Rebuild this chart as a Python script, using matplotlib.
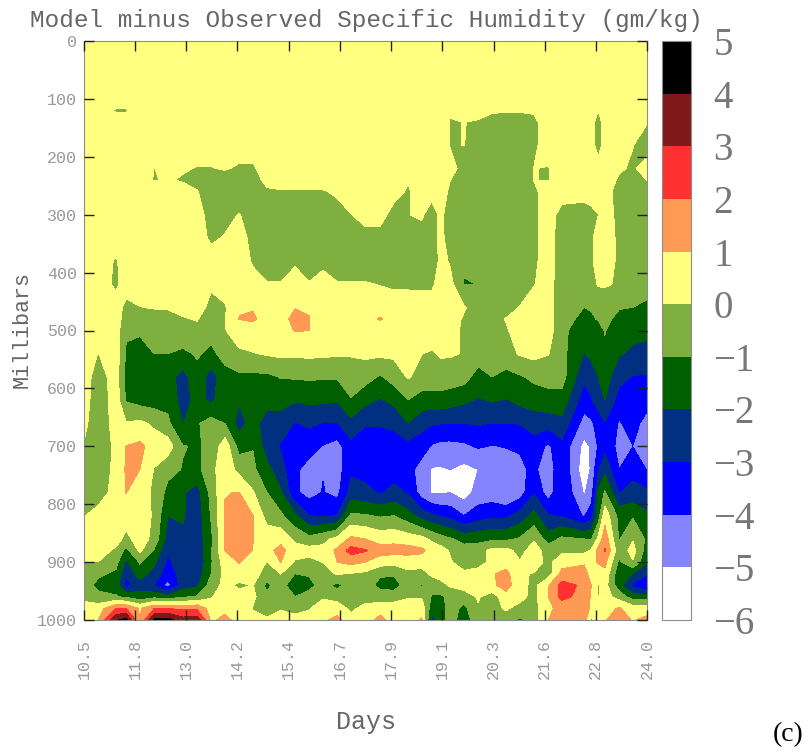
import numpy as np
import matplotlib
matplotlib.use('Agg')
import matplotlib.pyplot as plt
from matplotlib.colors import ListedColormap, BoundaryNorm

# time axis (days) of the model minus observed table, one entry per column
days = [10.50, 10.84, 11.27, 11.51, 11.84, 12.18, 12.51, 12.87, 13.21, 13.55,
        13.88, 14.22, 14.55, 14.89, 15.22, 15.56, 15.90, 16.23, 16.57, 16.90,
        17.24, 17.60, 17.93, 18.27, 18.60, 18.84, 19.06, 19.28, 19.61, 19.95,
        20.28, 20.62, 20.95, 21.29, 21.63, 21.96, 22.49, 22.66, 22.83, 22.99,
        23.33, 23.66, 24.00]
pressure = [0, 100, 120, 140, 180, 220, 240, 260, 300, 340, 380, 420, 460, 480, 500, 540,
            580, 620, 660, 700, 740, 780, 820, 860, 880, 900, 920, 940, 960, 980, 1000]

# specific humidity difference (gm/kg), one row per pressure level
humidity = [
  [.5]*43,
  [.5]*43,
  [.5,.5,-.1,-.1,.5,.5,.5,.5,.5,.5, .5,.5,.5,.5,.5,.5,.5,.5,.5,.5,
   .5,.5,.5,.5,.5,.5,.5,.1,.1,.2, .1,.1,.1,.1,.5,.5,.5,.5,.02,.5, .5,.5,.5],
  [.5,.5,.5,.5,.5,.5,.5,.5,.5,.5, .5,.5,.5,.5,.5,.5,.5,.5,.5,.5,
   .5,.5,.5,.5,.5,.5,.5,-.05,.01,-.05, -.3,-.5,-.5,-.2,.5,.5,.5,.5,-.5,.5, .5,.5,.03],
  [.5,.5,.5,.5,.5,.5,.5,.5,.5,.5, .5,.5,.5,.5,.5,.5,.5,.5,.5,.5,
   .5,.5,.5,.5,.5,.5,.5,-.05,.01,-.2, -.3,-.6,-.6,-.2,.5,.5,.5,.5,-.5,.5, .02,.02,-.3],
  [.5,.5,.5,.5,.5,-.02,.3,.1,-.05,-.05, .1,-.15,-.15,.5,.5,.5,.5,.5,.5,.5,
   .5,.5,.5,.5,.5,.5,.5,.4,-.4,-.6, -.6,-.6,-.5,.02,-.05,.5,.5,.5,.5,.5, .1,-.1,.3],
  [.5,.5,.5,.5,.5,-.05,.1,-.1,-.3,-.5, -.5,-.6,-.3,.2,.5,.5,.5,.5,.5,.5,
   .5,.5,.5,.05,.5,.5,.5,.02,-.5,-.7, -.7,-.7,-.6,.02,-.05,.5,.5,.5,.5,.4, -.1,-.4,.02],
  [.5,.5,.5,.5,.5,.5,.5,.4,.05,-.6, -.7,-.7,-.7,-.1,-.1,-.1,-.1,-.1,.2,.5,
   .5,.5,.3,-.1,.4,.3,.5,-.2,-.7,-.8, -.8,-.8,-.8,-.2,.5,.5,.5,.5,.5,.3, -.3,-.6,-.6],
  [.5,.5,.5,.5,.5,.5,.5,.5,.3,-.3, -.4,.05,-.5,-.8,-.8,-.8,-.8,-.8,-.5,-.02,
   .3,.3,-.3,-.02,.1,-.4,.2,-.5,-.8,-.8, -.8,-.8,-.8,-.2,.5,-.4,-.6,-.3,-.02,.5, -.3,-.7,-.7],
  [.5,.5,.5,.5,.5,.5,.5,.5,.5,-.2, .1,.4,-.3,-.8,-.8,-.8,-.8,-.8,-.8,-.8,
   -.3,-.3,-.6,-.6,-.3,-.5,.3,-.6,-.9,-.9, -.9,-.9,-.9,-.2,.5,-.6,-.8,-.2,.5,.5, -.2,-.8,-.8],
  [.5,.5,-.1,.5,.5,.5,.5,.5,.5,.5, .5,.5,-.1,-.8,-.8,-.1,-.8,-.2,-.8,-.8,
   -.8,-.8,-.8,-.8,-.8,-.7,.3,-.1,-.9,-.9, -.9,-.9,-.9,-.2,.5,-.6,-.8,-.2,.5,.5, -.2,-.8,-.8],
  [.5,.5,-.2,.5,.5,.5,.5,.5,.5,.1, .5,.5,.3,.1,.1,.3,.1,.3,.1,.1,
   .1,-.05,-.2,-.2,-.2,-.2,.5,.3,-1.04,-.99, -.8,-.8,-.8,-.05,.5,-.7,-.8,-.5,.1,.1, -.1,-.8,-.8],
  [.5,.5,.5,-.3,-.02,.05,.05,.2,.3,-.2, -.1,.95,.95,.6,.6,.95,.95,.6,.6,.6,
   .6,.7,.6,.6,.5,.5,.5,.4,.1,-.5, -.5,-.5,.05,.5,.5,-.7,-1.0,-.95,-.8,-.6, -.95,-1.0,-1.1],
  [.5,.5,.5,-.5,-.4,-.3,-.2,-.05,.05,-.4, -.05,1.02,1.1,.7,.6,1.3,1.02,.6,.6,.6,
   .8,1.05,.8,.6,.5,.5,.5,.4,-.1,-.6, -.3,.05,.5,.5,.5,-.7,-1.2,-1.1,-.95,-.8, -1.2,-1.4,-1.5],
  [.5,.5,.5,-.9,-.9,-.5,-.4,-.35,-.2,-.7, -.05,.6,.7,.6,.6,1.05,1.0,.6,.6,.6,
   .5,.6,.5,.5,.5,.5,.5,.4,-.2,-.7, -.7,-.1,.4,.6,.5,-.8,-1.5,-1.5,-1.3,-.95, -1.6,-1.7,-1.8],
  [.5,-.02,.5,-1.1,-1.3,-1.0,-1.0,-1.2,-.9,-1.2, -.7,-.2,-.05,.1,.2,.2,.2,.2,.1,.1,
   .2,.2,.2,.3,.02,-.1,.1,.1,-.05,-.5, -.6,-.4,.1,.3,.05,-.7,-2.05,-1.8,-1.4,-1.2, -1.9,-2.2,-2.3],
  [.5,-.5,.5,-1.4,-1.7,-1.9,-1.6,-2.4,-1.3,-2.5, -1.3,-1.2,-1.2,-1.2,-.95,-.9,-.85,-.9,-.9,-.6,
   -.6,-1.1,-.6,.1,-.4,-.4,-.4,-.5,-.6,-1.4, -1.0,-1.3,-1.1,-.8,-.7,-.6,-2.8,-2.6,-2.0,-1.5, -2.7,-3.05,-3.1],
  [.5,-.7,.5,-1.1,-1.4,-1.5,-1.3,-2.4,-1.7,-2.2, -1.4,-1.9,-1.5,-1.6,-1.6,-1.9,-1.8,-1.8,-1.9,-1.05,
   -1.7,-2.1,-1.7,-1.0,-1.4,-1.4,-1.4,-1.5,-1.8,-2.1, -1.9,-2.05,-1.7,-1.5,-1.3,-1.4,-3.5,-3.1,-2.5,-2.0, -3.4,-3.5,-3.6],
  [.3,-.8,.5,.05,.2,-.2,-.8,-2.05,-1.1,-.6, -1.05,-2.4,-1.6,-2.5,-2.5,-3.05,-2.8,-3.05,-3.05,-2.3,
   -2.95,-2.95,-2.85,-2.0,-2.7,-2.9,-2.95,-3.0,-3.0,-2.9, -3.0,-3.0,-2.95,-2.6,-2.6,-2.3,-4.4,-4.2,-3.6,-3.05, -4.1,-3.6,-4.4],
  [-.1,-.9,.3,1.02,1.2,.6,.5,-.95,-1.1,-.8, .6,-1.4,-1.05,-2.5,-3.1,-3.5,-3.7,-4.05,-4.4,-3.3,
   -3.3,-3.3,-3.3,-3.3,-3.5,-4.1,-4.3,-4.3,-4.2,-3.9, -4.05,-3.95,-3.9,-3.4,-4.2,-3.3,-5.3,-4.9,-3.9,-3.3, -4.3,-4.02,-4.6],
  [-.4,-.7,.3,1.1,1.0,-.05,-.7,-1.05,-1.3,-.3, .6,-.3,-.8,-1.7,-2.6,-3.85,-4.3,-4.05,-4.5,-3.2,
   -3.4,-3.5,-3.5,-3.6,-4.5,-5.1,-5.1,-5.0,-5.3,-5.0, -4.5,-4.6,-4.2,-3.8,-4.6,-3.2,-5.6,-4.9,-3.1,-2.3, -4.0,-3.3,-4.05],
  [-.7,-.5,.4,1.02,.5,-.2,-1.3,-1.9,-2.4,-.7, .98,1.02,.1,-1.0,-1.9,-3.8,-4.4,-3.95,-4.3,-2.6,
   -2.7,-3.1,-2.7,-3.1,-4.5,-5.1,-5.1,-5.0,-5.5,-4.6, -4.6,-5.05,-4.5,-3.1,-4.5,-3.1,-5.1,-4.6,-1.8,-.9, -3.05,-2.7,-2.8],
  [-.05,.4,.5,.5,.4,-.1,-2.0,-1.9,-2.6,-.9, 1.05,1.6,1.02,-.4,-.8,-1.8,-3.0,-3.1,-3.0,-.8,
   -.9,-1.1,-1.0,-1.6,-2.4,-2.8,-3.1,-3.3,-4.0,-3.5, -3.2,-3.2,-2.6,-1.7,-2.9,-3.1,-4.1,-3.4,-1.5,.6, -1.3,-1.1,-1.8],
  [.5,.5,.4,-.3,.5,-.3,-2.4,-2.2,-2.6,-1.2, 1.05,1.6,1.02,.6,.7,-.2,-.7,-.3,.3,1.2,
   1.0,.6,.7,.5,.3,-.2,-.6,-.9,-1.4,-1.3, -1.2,-1.2,-.9,-.1,-1.5,-.8,-1.0,-1.1,.2,1.6, -1.1,-.1,-1.2],
  [.5,.5,-.2,-1.3,.2,-1.1,-2.9,-2.2,-2.8,-1.1, 1.02,1.4,.98,.7,1.3,.4,.4,.3,1.2,2.4,
   2.1,1.4,1.4,1.4,1.2,.6,.4,-.1,-.5,-.5, .3,.3,-.3,.4,-.4,-.2,-.3,.1,1.3,2.1, -.7,.4,-1.5],
  [.02,-.02,-.7,-2.2,-.9,-1.8,-3.2,-2.4,-2.9,-1.1, .5,1.05,.6,-.05,1.02,-.1,-.3,.02,1.0,1.3,
   1.0,.5,.3,.4,.5,.5,.4,.1,-.5,-.5, .3,.5,.05,.5,-.3,.6,.9,.7,1.1,1.3, -1.2,-.1,-1.9],
  [-.3,-.8,-1.2,-2.9,-1.5,-2.4,-3.5,-2.6,-2.6,-1.0, .3,.6,.3,-.3,.02,-1.0,-.9,-.4,.1,-.05,
   -.2,-.9,-.9,-.2,-.4,.2,.4,.5,.2,.5, .9,1.3,.1,-.05,-.5,1.3,1.3,.7,.3,.7, -1.7,-2.0,-2.9],
  [-.5,-1.3,-1.5,-3.3,-2.5,-3.0,-4.4,-2.5,-2.2,-.5, .3,-.2,.05,-1.3,-.3,-2.2,-1.3,-.6,-1.3,-.5,
   -.7,-1.2,-1.4,-.6,-1.1,-.6,-.3,.1,.4,.5, .8,1.4,.4,-.3,.9,2.4,1.8,1.02,-.1,.4, -1.6,-3.2,-4.2],
  [-.2,-.7,-.9,-1.2,-1.6,-1.3,-1.6,-1.1,-.9,-.1, .6,.4,.2,-.7,-.1,-1.0,-.6,-.1,-.4,-.4,
   -.4,-.6,-.5,-.1,-.1,-1.1,-1.2,-.6,-.5,.1, -.5,.6,.3,-.3,1.0,2.3,1.6,.9,-.05,.4, -.4,-1.5,-1.5],
  [.3,.5,2.0,2.0,.9,1.9,2.0,1.8,1.8,.6, .7,.5,-.05,-.6,-.1,-.2,-.05,.4,.5,-.2,
   .3,.6,.6,.6,.6,-1.6,-1.6,-.5,-1.3,-.1, -.3,.1,-.3,-.4,.8,1.3,1.3,.9,.3,.6, 1.1,.5,.5],
  [.5,1.0,3.9,4.3,.9,4.2,4.4,3.4,3.6,.8, 1.3,.6,.3,.2,.5,.2,.3,.8,1.3,.3,
   .5,1.3,.5,.5,1.1,-2.4,-1.5,-.4,-1.7,-.2, -.4,-.4,-1.2,-.5,1.0,1.4,1.5,-.2,.3,.9, 1.6,.9,1.3],
]

levels = [-6, -5, -4, -3, -2, -1, 0, 1, 2, 3, 4, 5]
level_colors = ['#ffffff', '#8484ff', '#0000ff', '#00307f', '#006000', '#7fb03f',
                '#ffff80', '#ff9a55', '#ff3030', '#7f1818', '#000000']
day_ticks = [10.5, 11.73, 12.95, 14.18, 15.41, 16.64, 17.86, 19.09, 20.32, 21.55, 22.77, 24.0]
day_labels = ['10.5', '11.8', '13.0', '14.2', '15.4', '16.7', '17.9', '19.1', '20.3', '21.6', '22.8', '24.0']
pressure_ticks = [0, 100, 200, 300, 400, 500, 600, 700, 800, 900, 1000]

W, H = 809, 753
mono = 'Liberation Mono'
serif = 'Liberation Serif'
cmap = ListedColormap(level_colors)
norm = BoundaryNorm(levels, cmap.N)

def px_axes(fig, left, top, right, bottom):
  # axes from pixel edges of the picture
  return fig.add_axes([left/W, 1-bottom/H, (right-left)/W, (bottom-top)/H])

fig = plt.figure(figsize=(W/100, H/100), dpi=100)
ax = px_axes(fig, 84, 41, 647, 620)
cf = ax.contourf(days, pressure, np.array(humidity), levels=levels, cmap=cmap, norm=norm)
ax.set_axisbelow(False)
ax.set_xlim(10.5, 24.0)
ax.set_ylim(1000, 0)
ax.set_xticks(day_ticks)
ax.set_xticklabels(day_labels, rotation=90, family=mono, fontsize=12, color='#999999')
ax.set_yticks(pressure_ticks)
ax.set_yticklabels(pressure_ticks, family=mono, fontsize=12, color='#999999')
ax.tick_params(direction='in', length=7, width=1.0, color='#222222', top=True, right=True)
ax.tick_params(axis='x', pad=14)
ax.tick_params(axis='y', pad=5)
for s in ax.spines.values():
  s.set_color('#8c8c8c')

cax = px_axes(fig, 662, 41, 691, 620)
cbar = fig.colorbar(cf, cax=cax, ticks=levels)
cbar.ax.tick_params(length=0, pad=16, labelsize=28, labelcolor='#777777')
for lab in cbar.ax.get_yticklabels():
  lab.set_family(serif)
cbar.outline.set_edgecolor('#8c8c8c')

fig.text(366/W, 1-20/H, 'Model minus Observed Specific Humidity (gm/kg)', family=mono, fontsize=17.6,
         color='#666666', ha='center', va='center')
fig.text(366/W, 1-722/H, 'Days', family=mono, fontsize=18, color='#666666', ha='center', va='center')
fig.text(22/W, 1-329/H, 'Millibars', family=mono, fontsize=15.7, color='#666666', rotation=90,
         ha='center', va='center')
fig.text(788/W, 1-735/H, '(c)', family=serif, fontsize=20, color='black', ha='center', va='center')

fig.savefig('out.png', dpi=100)
